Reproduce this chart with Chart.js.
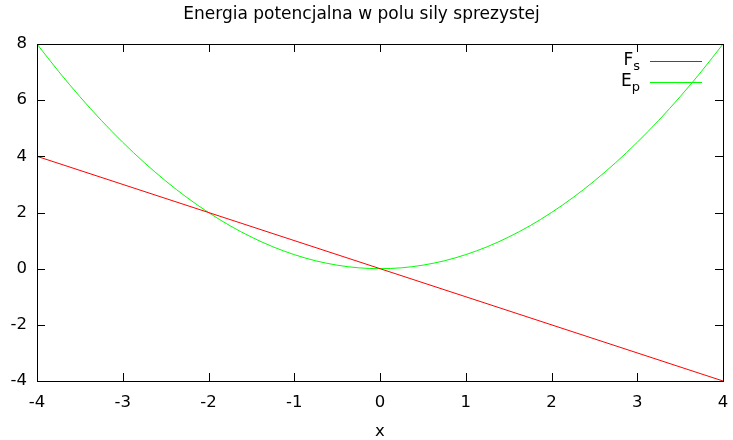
<!DOCTYPE html>
<html>
<head>
<meta charset="utf-8">
<script src="https://cdn.jsdelivr.net/npm/chart.js@4/dist/chart.umd.min.js"></script>
<style>
  html, body { margin: 0; padding: 0; background: #fff; }
  #wrap { width: 733px; height: 440px; }
</style>
</head>
<body>
<div id="wrap"><canvas id="c" width="733" height="440"></canvas></div>
<script>
'use strict';
// values
let title = 'Energia potencjalna w polu sily sprezystej';
let xLabel = 'x';
let xTicks = [-4, -3, -2, -1, 0, 1, 2, 3, 4];
let yTicks = [-4, -2, 0, 2, 4, 6, 8];

// F_s, straight line
let fsX = [-4, 0, 4];
let fsY = [4, 0, -4];

// E_p, parabola
let epX = [-4, -3.75, -3.5, -3.25, -3, -2.75, -2.5, -2.25, -2, -1.75, -1.5, -1.25, -1, -0.75, -0.5, -0.25,
  0, 0.25, 0.5, 0.75, 1, 1.25, 1.5, 1.75, 2, 2.25, 2.5, 2.75, 3, 3.25, 3.5, 3.75, 4];
let epY = [8, 7.03, 6.125, 5.28, 4.5, 3.78, 3.125, 2.53, 2, 1.53, 1.125, 0.78, 0.5, 0.28, 0.125, 0.03,
  0, 0.03, 0.125, 0.28, 0.5, 0.78, 1.125, 1.53, 2, 2.53, 3.125, 3.78, 4.5, 5.28, 6.125, 7.03, 8];

let fontFam = 'DejaVu Sans';
let fsColor = '#ff0000';
let epColor = '#00ff00';

function pts(xs, ys) {
  let out = [];
  for (let i = 0; i < xs.length; i++) {
    out.push({ x: xs[i], y: ys[i] });
  }
  return out;
}

// gnuplot style frame: border, inward ticks on all sides, legend with subscripts
const framePlugin = {
  id: 'frame',
  afterDraw(chart) {
    const ctx = chart.ctx;
    const a = chart.chartArea;
    const xs = chart.scales.x;
    const ys = chart.scales.y;
    const tl = 8;
    ctx.save();
    ctx.strokeStyle = '#000';
    ctx.lineWidth = 1;
    ctx.beginPath();
    for (let i = 0; i < xTicks.length; i++) {
      let px = Math.round(xs.getPixelForValue(xTicks[i])) + 0.5;
      ctx.moveTo(px, a.bottom);
      ctx.lineTo(px, a.bottom - tl);
      ctx.moveTo(px, a.top);
      ctx.lineTo(px, a.top + tl);
    }
    for (let i = 0; i < yTicks.length; i++) {
      let py = Math.round(ys.getPixelForValue(yTicks[i])) + 0.5;
      ctx.moveTo(a.left, py);
      ctx.lineTo(a.left + tl, py);
      ctx.moveTo(a.right, py);
      ctx.lineTo(a.right - tl, py);
    }
    ctx.stroke();
    ctx.strokeRect(Math.round(a.left) + 0.5, Math.round(a.top) + 0.5,
      Math.round(a.right - a.left), Math.round(a.bottom - a.top));

    // legend
    let items = [
      { main: 'F', sub: 's', color: fsColor },
      { main: 'E', sub: 'p', color: epColor }
    ];
    let textRight = a.right - 83;
    let lineL = a.right - 73;
    let lineR = a.right - 21;
    for (let i = 0; i < items.length; i++) {
      let y = a.top + 17 + i * 21;
      ctx.font = '17px ' + fontFam;
      let wm = ctx.measureText(items[i].main).width;
      ctx.font = '13px ' + fontFam;
      let ws = ctx.measureText(items[i].sub).width;
      ctx.fillStyle = '#000';
      ctx.textBaseline = 'middle';
      ctx.textAlign = 'left';
      ctx.font = '17px ' + fontFam;
      ctx.fillText(items[i].main, textRight - ws - wm, y);
      ctx.font = '13px ' + fontFam;
      ctx.fillText(items[i].sub, textRight - ws, y + 5.5);
      ctx.strokeStyle = items[i].color;
      ctx.beginPath();
      ctx.moveTo(lineL, Math.round(y) + 0.5);
      ctx.lineTo(lineR, Math.round(y) + 0.5);
      ctx.stroke();
    }
    ctx.restore();
  }
};

const ctx = document.getElementById('c').getContext('2d');
const chart = new Chart(ctx, {
  type: 'line',
  data: {
    datasets: [
      {
        label: 'Fs',
        data: pts(fsX, fsY),
        borderColor: fsColor,
        borderWidth: 1,
        pointRadius: 0,
        tension: 0,
        fill: false
      },
      {
        label: 'Ep',
        data: pts(epX, epY),
        borderColor: epColor,
        borderWidth: 1,
        pointRadius: 0,
        cubicInterpolationMode: 'monotone',
        fill: false
      }
    ]
  },
  options: {
    responsive: false,
    animation: false,
    events: [],
    layout: { padding: { left: 0, right: 10, top: 0, bottom: 0 } },
    plugins: {
      legend: { display: false },
      tooltip: { enabled: false },
      title: {
        display: true,
        text: title,
        color: '#000',
        font: { family: fontFam, size: 17, weight: 'normal' },
        padding: { top: 4, bottom: 19.6 }
      }
    },
    scales: {
      x: {
        type: 'linear',
        min: -4,
        max: 4,
        grid: { display: false, drawTicks: false },
        border: { display: false },
        afterBuildTicks(scale) {
          scale.ticks = xTicks.map(v => ({ value: v }));
        },
        afterFit(scale) {
          scale.height = 59;
          scale.paddingLeft = 0;
          scale.paddingRight = 0;
        },
        ticks: {
          color: '#000',
          padding: 12,
          maxRotation: 0,
          font: { family: fontFam, size: 16.5 }
        },
        title: {
          display: true,
          text: xLabel,
          color: '#000',
          padding: 0,
          font: { family: fontFam, size: 16.5, lineHeight: 1 }
        }
      },
      y: {
        type: 'linear',
        min: -4,
        max: 8,
        grid: { display: false, drawTicks: false },
        border: { display: false },
        afterBuildTicks(scale) {
          scale.ticks = yTicks.map(v => ({ value: v }));
        },
        afterFit(scale) {
          scale.width = 37;
          scale.paddingTop = 0;
          scale.paddingBottom = 0;
        },
        ticks: {
          color: '#000',
          padding: 10,
          font: { family: fontFam, size: 16.5 }
        }
      }
    }
  },
  plugins: [framePlugin]
});
</script>
</body>
</html>
